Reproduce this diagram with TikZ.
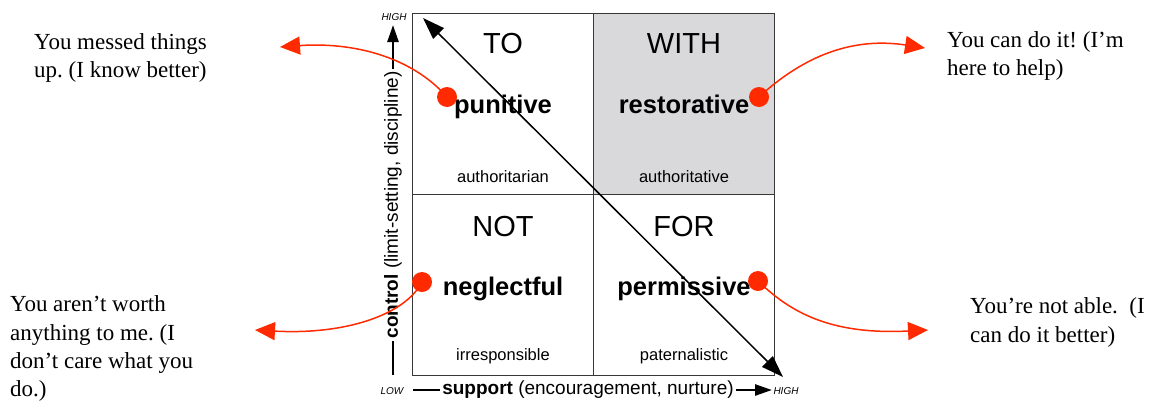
\documentclass[tikz,border=0pt]{standalone}
\usepackage{fontspec}
\setmainfont{Liberation Serif}
\setsansfont{Liberation Sans}
\usetikzlibrary{arrows.meta}
\definecolor{redarrow}{RGB}{255,42,0}
\definecolor{cellgray}{RGB}{217,217,219}
\definecolor{gridline}{RGB}{55,55,55}
\frenchspacing
\begin{document}
\begin{tikzpicture}[x=1pt,y=-1pt,
  cell/.style={draw=gridline, line width=1.3pt, minimum width=181pt, minimum height=181pt, inner sep=0pt, anchor=north west},
  quadtitle/.style={font=\sffamily\fontsize{29}{32}\selectfont, anchor=base, inner sep=0pt},
  bigword/.style={font=\sffamily\bfseries\fontsize{25.5}{28}\selectfont, anchor=base, inner sep=0pt},
  smallword/.style={font=\sffamily\fontsize{16.5}{19}\selectfont, anchor=base, inner sep=0pt},
  reddot/.style={circle, fill=redarrow, minimum size=20pt, inner sep=0pt},
  speech/.style={font=\fontsize{23}{28.2}\selectfont, align=left, anchor=base west, inner sep=0pt},
  redconn/.style={draw=redarrow, line width=1.5pt, -{Triangle[length=20pt,width=18pt]}},
  axislabel/.style={font=\sffamily\fontsize{19}{22}\selectfont, inner sep=2pt},
  axisline/.style={line width=2.5pt},
  hilo/.style={font=\sffamily\itshape\fontsize{10}{12}\selectfont, inner sep=0pt},
  diag/.style={line width=1.5pt, {Triangle[length=22pt,width=15pt]}-{Triangle[length=22pt,width=15pt]}}
]
\path[use as bounding box] (0,0) rectangle (1158,402);

% cells
\node[cell] (to) at (412,13) {};
\node[cell, fill=cellgray] (with) at (593,13) {};
\node[cell] (not) at (412,194) {};
\node[cell] (for) at (593,194) {};

% cell texts
\node[quadtitle] (toT) at (503,53) {TO};
\node[quadtitle] (withT) at (684,53) {WITH};
\node[quadtitle] (notT) at (503,236) {NOT};
\node[quadtitle] (forT) at (684,236) {FOR};
\node[bigword] (punitive) at (503,113) {punitive};
\node[bigword] (restorative) at (684,113) {restorative};
\node[bigword] (neglectful) at (503,295) {neglectful};
\node[bigword] (permissive) at (684,295) {permissive};
\node[smallword] (authoritarian) at (503,182) {authoritarian};
\node[smallword] (authoritative) at (684,182) {authoritative};
\node[smallword] (irresponsible) at (503,360) {irresponsible};
\node[smallword] (paternalistic) at (684,360) {paternalistic};

% diagonal
\coordinate (dtl) at (423,18);
\coordinate (dbr) at (783,377);
\draw[diag] (dtl) -- (dbr);

% vertical axis
\coordinate (vbot) at (393,375);
\coordinate (vtop) at (393,25);
\node[axislabel, rotate=90] (vlab) at (393,205) {\textbf{control} (limit-setting, discipline)};
\draw[axisline] (vbot) -- (vlab.west);
\draw[axisline, -{Triangle[length=17pt,width=11pt]}] (vlab.east) -- (vtop);
\node[hilo] (vhigh) at (394,17) {HIGH};

% horizontal axis
\coordinate (hstart) at (413,390);
\coordinate (hend) at (772,390);
\node[axislabel] (hlab) at (588,390) {\textbf{support} (encouragement, nurture)};
\draw[axisline] (hstart) -- (hlab.west);
\draw[axisline, -{Triangle[length=17pt,width=11pt]}] (hlab.east) -- (hend);
\node[hilo] (hlow) at (392,391) {LOW};
\node[hilo] (hhigh) at (786,391) {HIGH};

% speech texts (anchor = baseline of the last line)
\node[speech] (tlText) at (34,77.5) {You messed things\\up. (I know better)};
\node[speech] (blText) at (10,396.5) {You aren’t worth\\anything to me. (I\\don’t care what you\\do.)};
\node[speech] (trText) at (947,75.5) {You can do it! (I’m\\here to help)};
\node[speech] (brText) at (970,342) {You’re not able.\ \ (I\\can do it better)};

% red connectors
\coordinate (tlTip) at (280,47);
\coordinate (trTip) at (925,48);
\coordinate (blTip) at (255,330);
\coordinate (brTip) at (928,330);
\coordinate (pd) at (447,97);
\coordinate (rd) at (759,97);
\coordinate (nd) at (422,282);
\coordinate (md) at (758,281);
\draw[redconn] (pd) .. controls (410,55) and (350,42) .. (tlTip);
\draw[redconn] (rd) .. controls (810,50) and (860,38) .. (trTip);
\draw[redconn] (nd) .. controls (405,315) and (345,335) .. (blTip);
\draw[redconn] (md) .. controls (790,312) and (830,335) .. (brTip);

% red dots
\node[reddot] (pdot) at (pd) {};
\node[reddot] (rdot) at (rd) {};
\node[reddot] (ndot) at (nd) {};
\node[reddot] (mdot) at (md) {};
\end{tikzpicture}
\end{document}
